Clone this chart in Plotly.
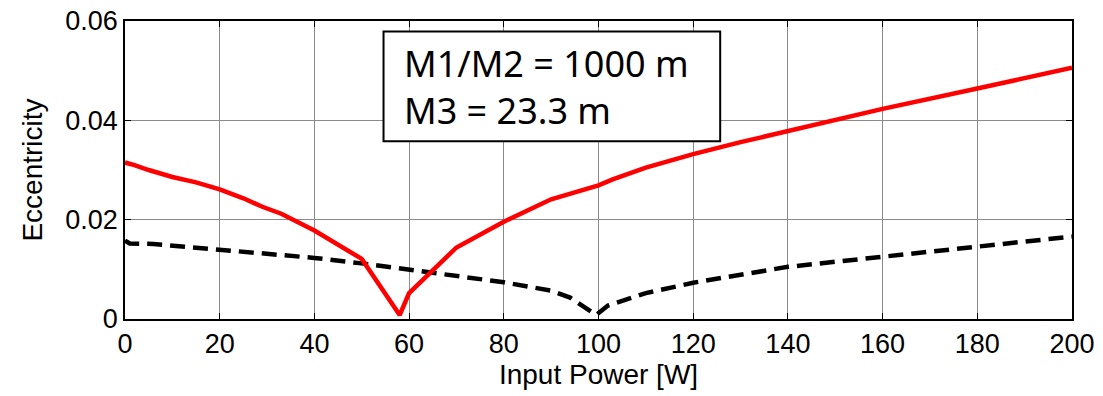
import plotly.graph_objects as go

# Red solid series (M1/M2 eccentricity)
red_power = [0, 2, 5, 10, 15, 20, 25, 29, 33, 40, 50, 58, 60, 70, 80, 90, 100, 103, 110, 120, 130, 140, 150, 160, 180, 200]
red_ecc = [0.0315, 0.031, 0.030, 0.0286, 0.0275, 0.0261, 0.0243, 0.0226, 0.0212, 0.0178, 0.0121, 0.0008, 0.0052, 0.0144, 0.0196, 0.0241, 0.0269, 0.0281, 0.0305, 0.0332, 0.0356, 0.0378, 0.0401, 0.0423, 0.0464, 0.0506]

# Black dashed series
blk_power = [0, 1, 6, 20, 30, 40, 50, 60, 70, 80, 90, 94, 99.5, 102, 110, 120, 140, 160, 180, 200]
blk_ecc = [0.0158, 0.0152, 0.0151, 0.0140, 0.0131, 0.0123, 0.0112, 0.0100, 0.0088, 0.0074, 0.0057, 0.0043, 0.0008, 0.0027, 0.0052, 0.0073, 0.0105, 0.0125, 0.0145, 0.0166]

x_ticks = [0, 20, 40, 60, 80, 100, 120, 140, 160, 180, 200]
y_ticks = [0, 0.02, 0.04, 0.06]
y_tick_text = ["0", "0.02", "0.04", "0.06"]
box_lines = ["M1/M2 = 1000 m", "M3 = 23.3 m"]

fig = go.Figure()
fig.add_trace(go.Scatter(x=blk_power, y=blk_ecc, mode="lines",
                         line=dict(color="black", width=4.5, dash="15px,8px"), showlegend=False))
fig.add_trace(go.Scatter(x=red_power, y=red_ecc, mode="lines",
                         line=dict(color="#ff0000", width=4.5), showlegend=False))

axis_common = dict(showgrid=True, gridcolor="#8a8a8a", gridwidth=1,
                   showline=True, linecolor="black", linewidth=1.5, mirror="allticks",
                   ticks="inside", ticklen=6, tickcolor="black", zeroline=False, automargin=False,
                   tickfont=dict(family="Liberation Sans, Arial", size=27, color="black"))

fig.update_xaxes(range=[0, 200], tickvals=x_ticks, **axis_common,
                 title=dict(text="Input Power [W]", standoff=2,
                            font=dict(family="Liberation Sans, Arial", size=28, color="black")))
fig.update_yaxes(range=[0, 0.06], tickvals=y_ticks, ticktext=y_tick_text, **axis_common,
                 title=dict(text="Eccentricity", standoff=14,
                            font=dict(family="Liberation Sans, Arial", size=28, color="black")))

fig.add_shape(type="rect", xref="x", yref="y", x0=54.6, x1=125.7, y0=0.0358, y1=0.0579,
              line=dict(color="black", width=2), fillcolor="white", layer="above")
fig.add_annotation(x=58.6, y=0.0468, xref="x", yref="y", text="<br>".join(box_lines),
                   showarrow=False, xanchor="left", yanchor="middle", align="left",
                   font=dict(family="Noto Sans, Open Sans", size=36, color="black"))

fig.update_layout(width=1103, height=396, plot_bgcolor="white", paper_bgcolor="white",
                  margin=dict(l=125, r=31, t=21, b=77))

fig.write_html("out.html", config={"displayModeBar": False},
               post_script="document.body.style.margin='0';document.body.style.padding='0';")
